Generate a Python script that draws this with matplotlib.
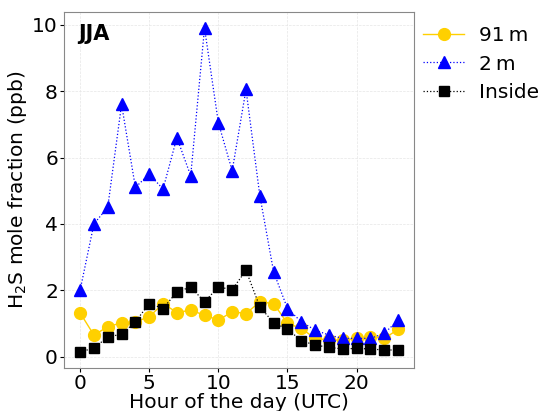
import numpy as np
import matplotlib.pyplot as plt

# === Data (JJA diurnal cycle) ===
hours = np.arange(24)
h2s_91m = [1.32, 0.65, 0.9, 1.02, 1.05, 1.2, 1.6, 1.33, 1.4, 1.25, 1.1, 1.35,
           1.3, 1.65, 1.6, 1.0, 0.85, 0.55, 0.5, 0.5, 0.55, 0.6, 0.55, 0.82]
h2s_2m = [2.0, 4.0, 4.5, 7.6, 5.1, 5.5, 5.05, 6.6, 5.45, 9.9, 7.05, 5.6,
          8.05, 4.85, 2.55, 1.45, 1.05, 0.8, 0.65, 0.55, 0.55, 0.55, 0.7, 1.1]
h2s_inside = [0.15, 0.25, 0.6, 0.67, 1.05, 1.6, 1.45, 1.95, 2.1, 1.65, 2.1, 2.02,
              2.6, 1.5, 1.02, 0.83, 0.48, 0.35, 0.28, 0.23, 0.25, 0.23, 0.2, 0.2]

fig = plt.figure(figsize=(5.44, 4.11), dpi=100)
ax = fig.add_axes([0.118, 0.105, 0.643, 0.866])

ax.plot(hours, h2s_91m, color='#FFD000', marker='o', markersize=8.5, linewidth=1,
        linestyle='-', label='91\u2009m')
ax.plot(hours, h2s_2m, color='blue', marker='^', markersize=8.5, linewidth=0.9,
        linestyle=':', label='2\u2009m')
ax.plot(hours, h2s_inside, color='black', marker='s', markersize=7.5, linewidth=0.9,
        linestyle=':', label='Inside')

ax.grid(True, linestyle='--', linewidth=0.5, color='#e6e6e6')
ax.set_axisbelow(True)
for s in ax.spines.values():
    s.set_color('#888888')

ax.set_xticks([0, 5, 10, 15, 20])
ax.tick_params(labelsize=14.5, pad=1.5, length=3)
ax.set_xlabel('Hour of the day (UTC)', fontsize=14.5, labelpad=0)
ax.set_ylabel('H$_2$S mole fraction (ppb)', fontsize=14.5, labelpad=2)
ax.text(0.04, 0.965, 'JJA', transform=ax.transAxes, fontsize=15,
        fontweight='bold', va='top', ha='left')

ax.legend(loc='upper left', bbox_to_anchor=(0.975, 1.01), frameon=False,
          fontsize=14.5, handlelength=2.0, handletextpad=0.75, labelspacing=0.45)

plt.savefig('out.png', dpi=100)
